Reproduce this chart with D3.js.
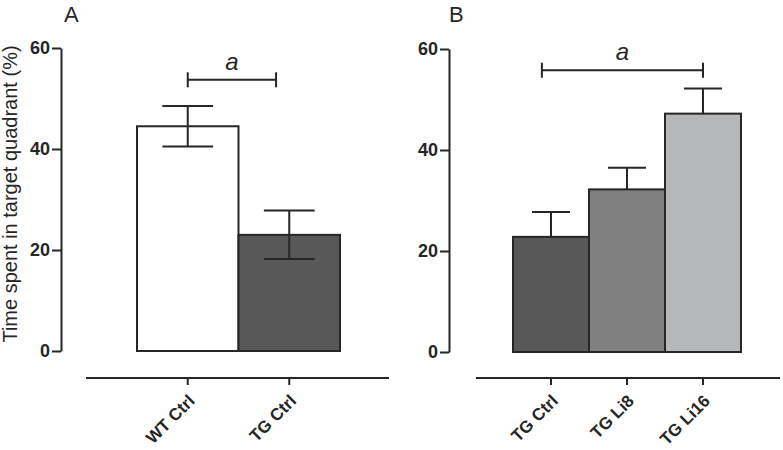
<!DOCTYPE html>
<html><head><meta charset="utf-8">
<script src="https://cdn.jsdelivr.net/npm/d3@7"></script>
<style>body{margin:0;background:#fff}svg{display:block}</style>
</head><body>
<svg id="c" width="783" height="450"></svg>
<script>
// ---- data ----
const catsA = ["WT Ctrl", "TG Ctrl"];
const meanA = [44.5, 23.0];
const semA  = [4.0, 4.8];
const colorsA = ["#ffffff", "#585858"];

const catsB = ["TG Ctrl", "TG Li8", "TG Li16"];
const meanB = [22.8, 32.2, 47.2];
const semB  = [4.9, 4.3, 5.0];
const colorsB = ["#585858", "#808080", "#b6b7b9"];

const yTicks = [0, 20, 40, 60];
const yLabel = "Time spent in target quadrant (%)";
// significance brackets: [fromCat, fromFrac, toCat, toFrac, value, label]
const bracketA = ["WT Ctrl", 0.5, "TG Ctrl", 0.37, 53.7, "a"];
const bracketB = ["TG Ctrl", 0.38, "TG Li16", 0.5, 55.8, "a"];

const svg = d3.select("#c");
const ink = "#262626";
const FONT = "'Liberation Sans', Arial, sans-serif";

function panel(o) {
  const g = svg.append("g");
  const y = d3.scaleLinear().domain([0, 60]).range([o.y0, o.y60]);
  const x = d3.scaleBand().domain(o.cats).range([o.bx0, o.bx1]).padding(0);
  const bw = x.bandwidth();

  // bars
  g.selectAll("rect.bar").data(o.cats).join("rect")
    .attr("x", d => x(d)).attr("width", bw)
    .attr("y", (d, i) => y(o.mean[i]))
    .attr("height", (d, i) => y(0) - y(o.mean[i]))
    .attr("fill", (d, i) => o.colors[i])
    .attr("stroke", ink).attr("stroke-width", 2);

  // error bars
  const eg = g.selectAll("g.err").data(o.cats).join("g")
    .attr("stroke", ink).attr("stroke-width", 2);
  eg.append("line")
    .attr("x1", d => x(d) + bw / 2).attr("x2", d => x(d) + bw / 2)
    .attr("y1", (d, i) => o.both ? y(o.mean[i] - o.sem[i]) : y(o.mean[i]))
    .attr("y2", (d, i) => y(o.mean[i] + o.sem[i]));
  eg.append("line")
    .attr("x1", d => x(d) + bw / 4).attr("x2", d => x(d) + bw * 3 / 4)
    .attr("y1", (d, i) => y(o.mean[i] + o.sem[i]))
    .attr("y2", (d, i) => y(o.mean[i] + o.sem[i]));
  if (o.both) {
    eg.append("line")
      .attr("x1", d => x(d) + bw / 4).attr("x2", d => x(d) + bw * 3 / 4)
      .attr("y1", (d, i) => y(o.mean[i] - o.sem[i]))
      .attr("y2", (d, i) => y(o.mean[i] - o.sem[i]));
  }

  // y axis
  const ya = g.append("g").attr("transform", `translate(${o.ax},0)`)
    .call(d3.axisLeft(y).tickValues(yTicks).tickSize(9).tickSizeOuter(0).tickPadding(2));
  ya.select(".domain").attr("stroke", ink).attr("stroke-width", 2);
  ya.selectAll(".tick line").attr("stroke", ink).attr("stroke-width", 2);
  ya.selectAll(".tick text").attr("fill", ink)
    .style("font-family", FONT)
    .style("font-size", "18px").style("font-weight", "bold");

  // x axis (separated baseline)
  const xa = g.append("g").attr("transform", `translate(0,${o.xaY})`)
    .call(d3.axisBottom(x).tickSize(7).tickSizeOuter(0));
  xa.select(".domain").remove();
  xa.selectAll(".tick line").attr("stroke", ink).attr("stroke-width", 2);
  xa.selectAll(".tick text").attr("fill", ink)
    .attr("text-anchor", "end").attr("dy", 0).attr("y", 0)
    .attr("transform", "translate(8,24) rotate(-45)")
    .style("font-family", FONT)
    .style("font-size", "17px").style("font-weight", "bold");
  g.append("line").attr("x1", o.lx0).attr("x2", o.lx1)
    .attr("y1", o.xaY).attr("y2", o.xaY)
    .attr("stroke", ink).attr("stroke-width", 2);

  // bracket
  const b = o.bracket;
  const bx0 = x(b[0]) + bw * b[1], bx1 = x(b[2]) + bw * b[3], by = y(b[4]);
  const bg = g.append("g").attr("stroke", ink).attr("stroke-width", 2);
  bg.append("line").attr("x1", bx0).attr("x2", bx1).attr("y1", by).attr("y2", by);
  bg.append("line").attr("x1", bx0).attr("x2", bx0).attr("y1", by - 7.5).attr("y2", by + 7.5);
  bg.append("line").attr("x1", bx1).attr("x2", bx1).attr("y1", by - 7.5).attr("y2", by + 7.5);
  g.append("text").attr("x", (bx0 + bx1) / 2).attr("y", by - 10)
    .attr("text-anchor", "middle").attr("fill", ink)
    .style("font-family", FONT)
    .style("font-size", "24px").style("font-style", "italic")
    .text(b[5]);

  // panel letter
  g.append("text").attr("x", o.lx).attr("y", 22).attr("fill", ink)
    .style("font-family", FONT)
    .style("font-size", "22px").text(o.letter);
}

panel({cats: catsA, mean: meanA, sem: semA, colors: colorsA, both: true,
  y0: 351, y60: 48, bx0: 137, bx1: 340, ax: 61, xaY: 378, lx0: 86, lx1: 389,
  bracket: bracketA, letter: "A", lx: 64});
panel({cats: catsB, mean: meanB, sem: semB, colors: colorsB, both: false,
  y0: 352, y60: 49, bx0: 513, bx1: 741, ax: 449, xaY: 378, lx0: 476, lx1: 780,
  bracket: bracketB, letter: "B", lx: 449});

// y label
svg.append("text")
  .attr("transform", "translate(17,194) rotate(-90)")
  .attr("text-anchor", "middle").attr("fill", ink)
  .style("font-family", FONT)
  .style("font-size", "20px").text(yLabel);
</script>
</body></html>
